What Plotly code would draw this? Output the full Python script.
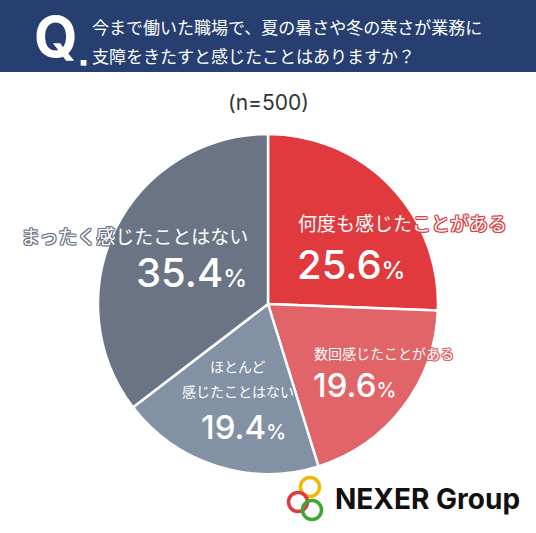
import plotly.graph_objects as go

labels = ["何度も感じたことがある", "数回感じたことがある", "ほとんど感じたことはない", "まったく感じたことはない"]
values = [25.6, 19.6, 19.4, 35.4]
colors = ["#E0393E", "#E06468", "#8291A3", "#6A7484"]

W, H = 536, 533
FONT = "Noto Sans CJK JP"
NUMFONT = "Inter"


def px(x, y):
    # pixel position -> paper coords
    return x / W, 1 - y / H


def outline(c):
    return ", ".join(f"{a}px {b}px 0 {c}" for a in (-1, 0, 1) for b in (-1, 0, 1) if a or b)


fig = go.Figure()
fig.add_pie(
    labels=labels,
    values=values,
    sort=False,
    direction="clockwise",
    rotation=0,
    textinfo="none",
    hoverinfo="label+percent",
    marker=dict(colors=colors, line=dict(color="white", width=2.5)),
    domain=dict(x=[97 / W, 439 / W], y=[1 - 474 / H, 1 - 134 / H]),
    showlegend=False,
)

ann = []


def add_text(x, y, text, size, color="white", xanchor="center", shadow=None, weight=None, family=FONT):
    ax, ay = px(x, y)
    f = dict(family=family, size=size, color=color)
    if shadow:
        f["shadow"] = shadow
    if weight:
        f["weight"] = weight
    ann.append(dict(x=ax, y=ay, xref="paper", yref="paper", text=text, showarrow=False,
                    xanchor=xanchor, yanchor="middle", font=f))


def pct(v, small):
    return f"{v}<span style='font-size:{small}px'>%</span>"


# header
add_text(56, 37, "Q", 56, weight="bold", family=NUMFONT)
add_text(83, 62, "■", 7)
add_text(90, 26, "今まで働いた職場で、夏の暑さや冬の寒さが業務に", 17, xanchor="left")
add_text(90, 56, "支障をきたすと感じたことはありますか？", 17, xanchor="left")
add_text(268, 102, "(n=500)", 21, color="#333333", family=NUMFONT)

# slice labels
add_text(296, 222, labels[0], 19, xanchor="left", shadow=outline(colors[0]))
add_text(295, 264, pct(values[0], 24), 40, xanchor="left", weight=500, family=NUMFONT)
add_text(312, 353, labels[1], 14, xanchor="left", shadow=outline(colors[1]))
add_text(311, 385, pct(values[1], 20), 33, xanchor="left", weight=500, family=NUMFONT)
add_text(238, 366, "ほとんど", 14, shadow=outline(colors[2]))
add_text(238, 391, "感じたことはない", 14, shadow=outline(colors[2]))
add_text(243, 427, pct(values[2], 20), 33, weight=500, family=NUMFONT)
add_text(250, 235, labels[3], 19, xanchor="right", shadow=outline(colors[3]))
add_text(249, 272, pct(values[3], 24), 40, xanchor="right", weight=500, family=NUMFONT)

# logo text
add_text(333, 499, "NEXER Group", 28, color="#111111", xanchor="left", weight="bold", family=NUMFONT)

shapes = [
    dict(type="rect", xref="paper", yref="paper", x0=0, x1=1, y0=1 - 72 / H, y1=1,
         fillcolor="#263F70", line=dict(width=0), layer="below"),
]
# logo rings
for cx, cy, c in [(310, 487, "#F2B705"), (298, 502, "#E0393E"), (312, 510, "#3FA535")]:
    x0, y0 = px(cx - 9.5, cy - 9.5)
    x1, y1 = px(cx + 9.5, cy + 9.5)
    shapes.append(dict(type="circle", xref="paper", yref="paper", x0=x0, x1=x1, y0=y1, y1=y0,
                       line=dict(color=c, width=3.5)))

fig.update_layout(
    width=W,
    height=H,
    margin=dict(l=0, r=0, t=0, b=0),
    paper_bgcolor="white",
    plot_bgcolor="white",
    annotations=ann,
    shapes=shapes,
)

fig.write_html("out.html", config={"displayModeBar": False},
               post_script="document.body.style.margin='0';")
